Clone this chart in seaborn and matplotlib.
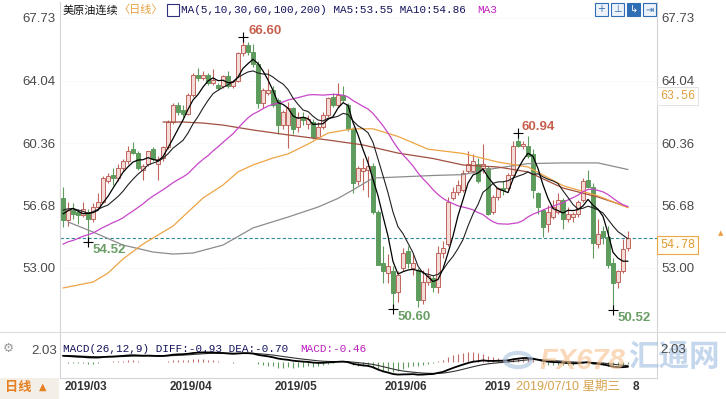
import numpy as np
import pandas as pd
import matplotlib.pyplot as plt
import matplotlib.patches as mpatches
import seaborn as sns

# closes before the visible window (Jan-Feb 2019), only used to warm up MA / MACD
prior_close = [46.54, 47.09, 47.96, 48.52, 49.78, 52.36, 52.59, 51.59, 50.51, 52.11,
               52.31, 52.07, 53.80, 52.57, 52.62, 53.13, 53.69, 51.99, 53.31, 54.23,
               53.79, 55.26, 54.56, 53.66, 54.01, 52.64, 52.72, 52.41, 53.10, 53.90,
               54.41, 55.59, 56.09, 56.92, 57.26, 57.26, 55.48, 55.50, 56.94, 57.22]

# daily candles 2019/03/01 .. 2019/08/12
opens = [57.1, 55.8, 56.4, 56.3, 56.1, 56.3, 55.9, 56.6, 56.9, 58.1,
         58.5, 58.3, 58.9, 59.3, 60.0, 59.8, 58.8, 59.1, 60.0, 59.1,
         59.5, 60.1, 61.6, 62.6, 62.3, 62.1, 63.2, 64.4, 64.2, 64.4,
         63.9, 63.8, 63.7, 64.3, 63.7, 64.0, 65.65, 66.15, 65.75, 65.0,
         62.7, 63.3, 63.5, 62.9, 61.4, 61.4, 62.4, 61.3, 61.9, 61.5,
         61.6, 60.7, 61.3, 62.0, 63.1, 62.6, 63.2, 62.6, 61.2, 58.1,
         58.7, 58.8, 59.0, 56.3, 53.3, 52.7, 52.8, 51.6, 53.0, 54.0,
         53.0, 52.9, 51.1, 52.2, 52.4, 51.9, 53.9, 54.4, 57.1, 57.5,
         57.6, 58.7, 58.7, 59.1, 58.9, 58.9, 56.3, 57.2, 57.7, 57.7,
         58.5, 60.5, 60.2, 60.2, 59.7, 57.4, 56.4, 55.6, 56.0, 56.3,
         57.0, 55.9, 56.0, 56.2, 57.0, 58.2, 57.8, 54.4, 55.2, 54.8,
         53.3, 52.2, 52.8, 54.2]
highs = [57.8, 56.9, 56.8, 56.5, 56.9, 56.5, 56.8, 57.4, 58.4, 58.6,
         58.9, 59.1, 59.4, 60.2, 60.4, 59.9, 59.1, 59.9, 60.1, 59.6,
         60.2, 61.7, 62.7, 62.8, 62.6, 63.3, 64.5, 64.8, 64.6, 64.5,
         64.7, 63.9, 64.4, 64.6, 64.1, 65.75, 66.60, 66.3, 66.2, 65.2,
         63.6, 64.7, 63.7, 63.0, 62.3, 62.8, 62.5, 62.2, 62.2, 62.0,
         61.8, 61.6, 62.2, 63.1, 63.3, 63.9, 63.7, 62.7, 61.3, 59.0,
         59.5, 59.6, 59.2, 56.4, 54.3, 53.8, 53.1, 52.8, 54.2, 54.3,
         53.8, 53.0, 52.9, 53.0, 52.6, 54.3, 54.6, 57.2, 57.8, 58.2,
         58.8, 59.9, 59.7, 59.5, 60.3, 59.0, 57.3, 57.8, 58.1, 58.6,
         60.5, 60.94, 60.5, 60.8, 60.0, 57.5, 56.5, 56.7, 57.0, 57.4,
         57.1, 56.6, 56.3, 57.0, 58.3, 58.8, 58.0, 55.9, 55.5, 55.5,
         53.6, 52.9, 54.7, 55.2]
lows = [55.4, 55.5, 55.9, 55.6, 56.0, 54.52, 55.7, 56.5, 56.8, 58.0,
        57.9, 58.1, 58.7, 59.1, 59.7, 58.8, 58.2, 59.0, 59.3, 58.2,
        59.3, 60.0, 61.5, 62.0, 61.9, 62.0, 63.1, 64.0, 64.1, 63.8,
        63.8, 63.5, 63.6, 63.6, 63.6, 63.95, 65.5, 65.55, 64.85, 62.4,
        62.4, 63.2, 62.5, 60.9, 61.2, 60.05, 60.9, 61.0, 61.4, 61.2,
        60.6, 60.6, 61.2, 61.9, 62.5, 62.5, 62.8, 61.1, 57.4, 57.9,
        57.6, 57.2, 56.2, 53.2, 52.1, 52.1, 50.60, 51.0, 52.8, 53.0,
        52.6, 50.7, 50.9, 52.0, 51.6, 51.5, 53.6, 54.3, 57.0, 57.3,
        57.5, 58.6, 58.6, 58.0, 58.6, 56.1, 56.2, 57.0, 57.3, 57.6,
        58.4, 60.1, 60.0, 59.5, 57.1, 56.2, 54.8, 55.1, 55.9, 56.2,
        55.3, 55.7, 55.7, 56.0, 56.9, 57.7, 53.6, 54.2, 54.4, 53.0,
        50.52, 51.8, 52.7, 54.0]
closes = [55.8, 56.4, 56.2, 56.1, 56.5, 55.9, 56.6, 56.9, 58.3, 58.4,
          58.3, 58.9, 59.3, 59.9, 59.8, 58.9, 59.0, 59.9, 59.4, 59.4,
          60.1, 61.6, 62.6, 62.2, 62.1, 63.2, 64.4, 64.2, 64.4, 63.9,
          64.1, 63.6, 64.3, 63.7, 64.0, 65.65, 66.15, 65.7, 65.0, 62.7,
          63.5, 63.5, 62.6, 61.4, 62.2, 62.4, 61.2, 61.9, 61.7, 61.8,
          60.7, 61.3, 62.0, 63.0, 62.6, 63.2, 62.9, 61.2, 58.0, 58.9,
          58.9, 59.0, 56.3, 53.2, 52.8, 53.1, 51.5, 52.6, 53.9, 53.3,
          53.3, 51.1, 52.2, 52.5, 51.9, 53.9, 54.2, 56.9, 57.5, 57.9,
          58.6, 59.1, 59.3, 58.1, 59.1, 56.2, 57.2, 57.7, 57.6, 58.5,
          60.2, 60.2, 60.3, 59.6, 57.6, 56.6, 55.4, 56.3, 56.6, 57.0,
          55.9, 56.2, 56.2, 56.9, 58.1, 57.8, 54.5, 55.0, 54.8, 53.2,
          52.1, 52.8, 54.1, 54.78]

# long moving averages (candle index, value)
ma60_idx = [0, 6, 9, 12, 16, 19, 22, 25, 28, 32, 35, 38, 42, 45, 49, 53, 58, 62, 67,
            73, 80, 87, 93, 100, 107, 113]
ma60_val = [51.82, 52.17, 52.70, 53.53, 54.41, 54.94, 55.47, 56.30, 57.12, 57.89, 58.66,
            59.07, 59.48, 59.72, 60.30, 60.95, 61.20, 61.20, 60.75, 60.00, 59.75, 59.24,
            58.95, 57.85, 57.25, 56.55]
ma100_idx = [1, 6, 12, 18, 22, 26, 32, 38, 45, 51, 55, 58, 62, 67, 74, 80, 86, 93, 100,
             107, 113]
ma100_val = [55.71, 55.12, 54.35, 53.94, 53.82, 53.88, 54.35, 55.36, 56.00, 56.59, 57.10,
             57.60, 58.30, 58.36, 58.45, 58.50, 58.85, 59.15, 59.19, 59.19, 58.80]
ma200_idx = [20, 24, 28, 32, 38, 45, 53, 60, 67, 74, 80, 87, 93, 100, 107, 113]
ma200_val = [61.60, 61.60, 61.54, 61.42, 61.13, 60.84, 60.54, 60.25, 59.77, 59.45, 59.07,
             58.95, 58.66, 57.71, 57.18, 56.59]

month_labels = ["2019/03", "2019/04", "2019/05", "2019/06", "2019/07", "2019/08"]
month_start = [0, 21, 42, 64, 84, 106]
price_ticks = [67.73, 64.04, 60.36, 56.68, 53.00]

W, H = 726, 399
UP_EDGE, UP_FACE, DOWN = "#c0645c", "#f4dcd8", "#5e9c5e"
MONO = "Liberation Mono"
XL, XR = 60, 657          # plot area in pixels
XMIN, XMAX = (XL - 63) / 5, (XR - 63) / 5


def fx(x):
    return x / W


def fy(y):
    return 1 - y / H


sns.set_theme(style="white")
plt.rcParams["font.family"] = ["Liberation Sans", "Noto Sans CJK SC", "DejaVu Sans"]

df = pd.DataFrame({"o": opens, "h": highs, "l": lows, "c": closes})
df["i"] = np.arange(len(df))
n0 = len(prior_close)
allc = pd.Series(prior_close + closes)
df["ma5"] = allc.rolling(5).mean().iloc[n0:].values
df["ma10"] = allc.rolling(10).mean().iloc[n0:].values
df["ma30"] = allc.rolling(30).mean().iloc[n0:].values
ema12 = allc.ewm(span=12, adjust=False).mean()
ema26 = allc.ewm(span=26, adjust=False).mean()
diff = ema12 - ema26
dea = diff.ewm(span=9, adjust=False).mean()
df["dif"] = diff.iloc[n0:].values
df["dea"] = dea.iloc[n0:].values
df["bar"] = 2 * (df["dif"] - df["dea"])

fig = plt.figure(figsize=(W / 100, H / 100), dpi=100)
ax = fig.add_axes([fx(XL), fy(332), fx(XR) - fx(XL), fy(2) - fy(332)])
axm = fig.add_axes([fx(XL), fy(378), fx(XR) - fx(XL), fy(332) - fy(378)])

# ---- price panel ----
for p in price_ticks:
    ax.axhline(p, color="#efefef", lw=0.6, ls=(0, (1, 2)), zorder=0)

up = df["c"] >= df["o"]
dn = ~up
ax.vlines(df["i"][up], df["l"][up], df["h"][up], color=UP_EDGE, lw=0.8, zorder=2)
ax.vlines(df["i"][dn], df["l"][dn], df["h"][dn], color=DOWN, lw=0.8, zorder=2)
body = (df["c"] - df["o"]).abs().clip(lower=0.05)
ax.bar(df["i"][up], body[up], bottom=df["o"][up], width=0.62, color=UP_FACE,
       edgecolor=UP_EDGE, lw=0.7, zorder=3)
ax.bar(df["i"][dn], body[dn], bottom=df["c"][dn], width=0.62, color=DOWN,
       edgecolor=DOWN, lw=0.7, zorder=3)

sns.lineplot(x=ma100_idx, y=ma100_val, ax=ax, color="#8c8c8c", lw=0.9, zorder=4)
sns.lineplot(x=ma200_idx, y=ma200_val, ax=ax, color="#a0503f", lw=0.9, zorder=4)
sns.lineplot(x=ma60_idx, y=ma60_val, ax=ax, color="#eea444", lw=0.9, zorder=4)
sns.lineplot(data=df, x="i", y="ma30", ax=ax, color="#c846c8", lw=0.9, zorder=4)
sns.lineplot(data=df, x="i", y="ma10", ax=ax, color="#202020", lw=0.8, zorder=5)
sns.lineplot(data=df, x="i", y="ma5", ax=ax, color="#000000", lw=0.9, zorder=5)

last = closes[-1]
ax.axhline(last, color="#2f8a9c", lw=0.8, ls=(0, (3, 2)), zorder=1)

ihi, ihi2 = int(np.argmax(highs[:60])), 60 + int(np.argmax(highs[60:]))
ilo = [int(np.argmin(lows[:20])), int(np.argmin(lows[40:80])) + 40,
       100 + int(np.argmin(lows[100:]))]
for k, dx, dy in [(ihi, 5, 6), (ihi2, 3, 6)]:
    ax.plot(k, highs[k], marker="+", color="black", ms=7, mew=0.8, zorder=6)
    ax.annotate(f"{highs[k]:.2f}", (k, highs[k]), xytext=(dx, dy), textcoords="offset pixels",
                ha="left", va="center", color="#c8604e", fontsize=9.5, fontweight="bold")
for k in ilo:
    ax.plot(k, lows[k], marker="+", color="black", ms=7, mew=0.8, zorder=6)
    ax.annotate(f"{lows[k]:.2f}", (k, lows[k]), xytext=(5, -8), textcoords="offset pixels",
                ha="left", va="center", color="#6a9e66", fontsize=9.5, fontweight="bold")

ax.set_xlim(XMIN, XMAX)
ax.set_ylim(67.73 - 314 / 16.97, 67.73 + 16 / 16.97)
ax.set_yticks(price_ticks)
ax.set_yticklabels([f"{p:.2f}" for p in price_ticks])
ax.tick_params(axis="y", length=0, labelsize=9.5, colors="#4a4a4a", labelright=True, pad=3)
ax.set_xticks([])
ax.set_xlabel("")
ax.set_ylabel("")
for s in ["left", "right"]:
    ax.spines[s].set_color("#d4d4d4")
    ax.spines[s].set_linewidth(0.8)
ax.spines["top"].set_visible(False)
ax.spines["bottom"].set_visible(False)

# ---- MACD panel ----
pos = df["bar"] >= 0
axm.vlines(df["i"][pos], 0, df["bar"][pos], color="#c06a6a", lw=0.8)
axm.vlines(df["i"][~pos], 0, df["bar"][~pos], color="#5f9a5f", lw=0.8)
sns.lineplot(data=df, x="i", y="dea", ax=axm, color="#333333", lw=0.8)
sns.lineplot(data=df, x="i", y="dif", ax=axm, color="#000000", lw=1.3)
axm.set_xlim(XMIN, XMAX)
axm.set_ylim(-(378 - 362) / 4.93, (362 - 332) / 4.93)
axm.set_xticks([])
axm.set_yticks([])
axm.set_xlabel("")
axm.set_ylabel("")
for s in ["left", "right", "bottom"]:
    axm.spines[s].set_color("#d4d4d4")
    axm.spines[s].set_linewidth(0.8)
axm.spines["top"].set_visible(False)

# full-width separator between the panels
fig.add_artist(plt.Line2D([0, 1], [fy(332), fy(332)], transform=fig.transFigure,
                          color="#dcdcdc", lw=0.8))

# ---- texts on top rows ----
fig.text(fx(63), fy(10), "美原油连续", fontsize=8, color="#111111", va="center",
         family=["Noto Sans CJK SC"])
fig.text(fx(118), fy(10), "〈日线〉", fontsize=8, color="#e6a040", va="center",
         family=["Noto Sans CJK SC"])
fig.patches.append(mpatches.Rectangle((fx(167), fy(16)), fx(12), fy(4) - fy(16),
                                      transform=fig.transFigure, fill=False,
                                      edgecolor="#303080", lw=0.8))
fig.text(fx(181), fy(10), "MA(5,10,30,60,100,200) MA5:53.55 MA10:54.86", fontsize=7.9,
         color="#14145c", va="center", family=MONO)
fig.text(fx(477), fy(10), "MA3", fontsize=7.9, color="#c020c0", va="center", family=MONO)

fig.text(fx(63), fy(349), "MACD(26,12,9) DIFF:-0.93 DEA:-0.70", fontsize=7.9,
         color="#14145c", va="center", family=MONO)
fig.text(fx(300), fy(349), "MACD:-0.46", fontsize=7.9, color="#c020c0", va="center",
         family=MONO)
fig.text(fx(57), fy(351), "2.03", fontsize=9.5, color="#4a4a4a", va="center", ha="right")
fig.text(fx(660), fy(350), "2.03", fontsize=9.5, color="#4a4a4a", va="center", ha="left",
         zorder=4)
fig.text(fx(8), fy(348), "⚙", fontsize=9, color="#999999", va="center", ha="center",
         family=["DejaVu Sans"])

fig.text(fx(660), fy(96), "63.56", fontsize=8.5, color="#e0a040", va="center", ha="left",
         family=MONO, bbox=dict(boxstyle="square,pad=0.25", fc="white", ec="#e2e2e2", lw=0.7))
fig.text(fx(660), fy(245), f"{last:.2f}", fontsize=8.5, color="#e09a30", va="center",
         ha="left", family=MONO,
         bbox=dict(boxstyle="square,pad=0.25", fc="#fffdf6", ec="#eaa84a", lw=0.8))
fig.text(fx(721), fy(233), "▲", fontsize=5, color="#eaa040", va="center", ha="center",
         family=["DejaVu Sans"])

# toolbar icons
for k, x0 in enumerate([595, 611, 627, 643]):
    fig.patches.append(mpatches.Rectangle((fx(x0), fy(16)), fx(13), fy(3) - fy(16),
                                          transform=fig.transFigure,
                                          fc="#2f6db5" if k == 2 else "#eef3fa",
                                          ec="#2f6db5", lw=0.8))
    fig.text(fx(x0 + 6.5), fy(9.5), ["+", "⊥", "↳", "⇥"][k], fontsize=7, ha="center",
             va="center", color="white" if k == 2 else "#2f6db5", family=["DejaVu Sans"])

# ---- date band ----
fig.patches.append(mpatches.Rectangle((0, 0), fx(59), fy(378), transform=fig.transFigure,
                                      fc="#f3efe6", ec="none"))
fig.text(fx(5), fy(387), "日线", fontsize=9.5, color="#e67e22", fontweight="bold",
         va="center", family=["Noto Sans CJK SC"])
fig.text(fx(39), fy(387), "▲", fontsize=7, color="#e67e22", va="center",
         family=["DejaVu Sans"])
# the cursor date box hides most of the July / August labels: only "2019" and "8" show
shown = month_labels[:4] + [month_labels[4][:4], month_labels[5][-1]]
shift = [0, 0, 0, 0, 0, 38]
for lab, k, dx in zip(shown, month_start, shift):
    fig.text(fx(63 + 5 * k + 2 + dx), fy(387), lab, fontsize=8.5, fontweight="bold",
             color="#333333", va="center", ha="left")
fig.text(fx(516), fy(387), "2019/07/10 星期三", fontsize=9, color="#d6a24e",
         va="center", ha="left")

# watermark
fig.patches.append(mpatches.Circle((fx(518), fy(360)), 13 / W, transform=fig.transFigure,
                                   fill=False, ec="#a9c2dd", lw=3, alpha=0.6))
fig.text(fx(539), fy(361), "FX678", fontsize=21, fontweight="bold", color="#f6c08c",
         alpha=0.6, va="center", ha="left", style="italic")
fig.text(fx(628), fy(357), "汇通网", fontsize=22, fontweight="bold", color="#9fbde0",
         alpha=0.6, va="center", ha="left", family=["Noto Sans CJK SC"])

fig.savefig("out.png", dpi=100)
